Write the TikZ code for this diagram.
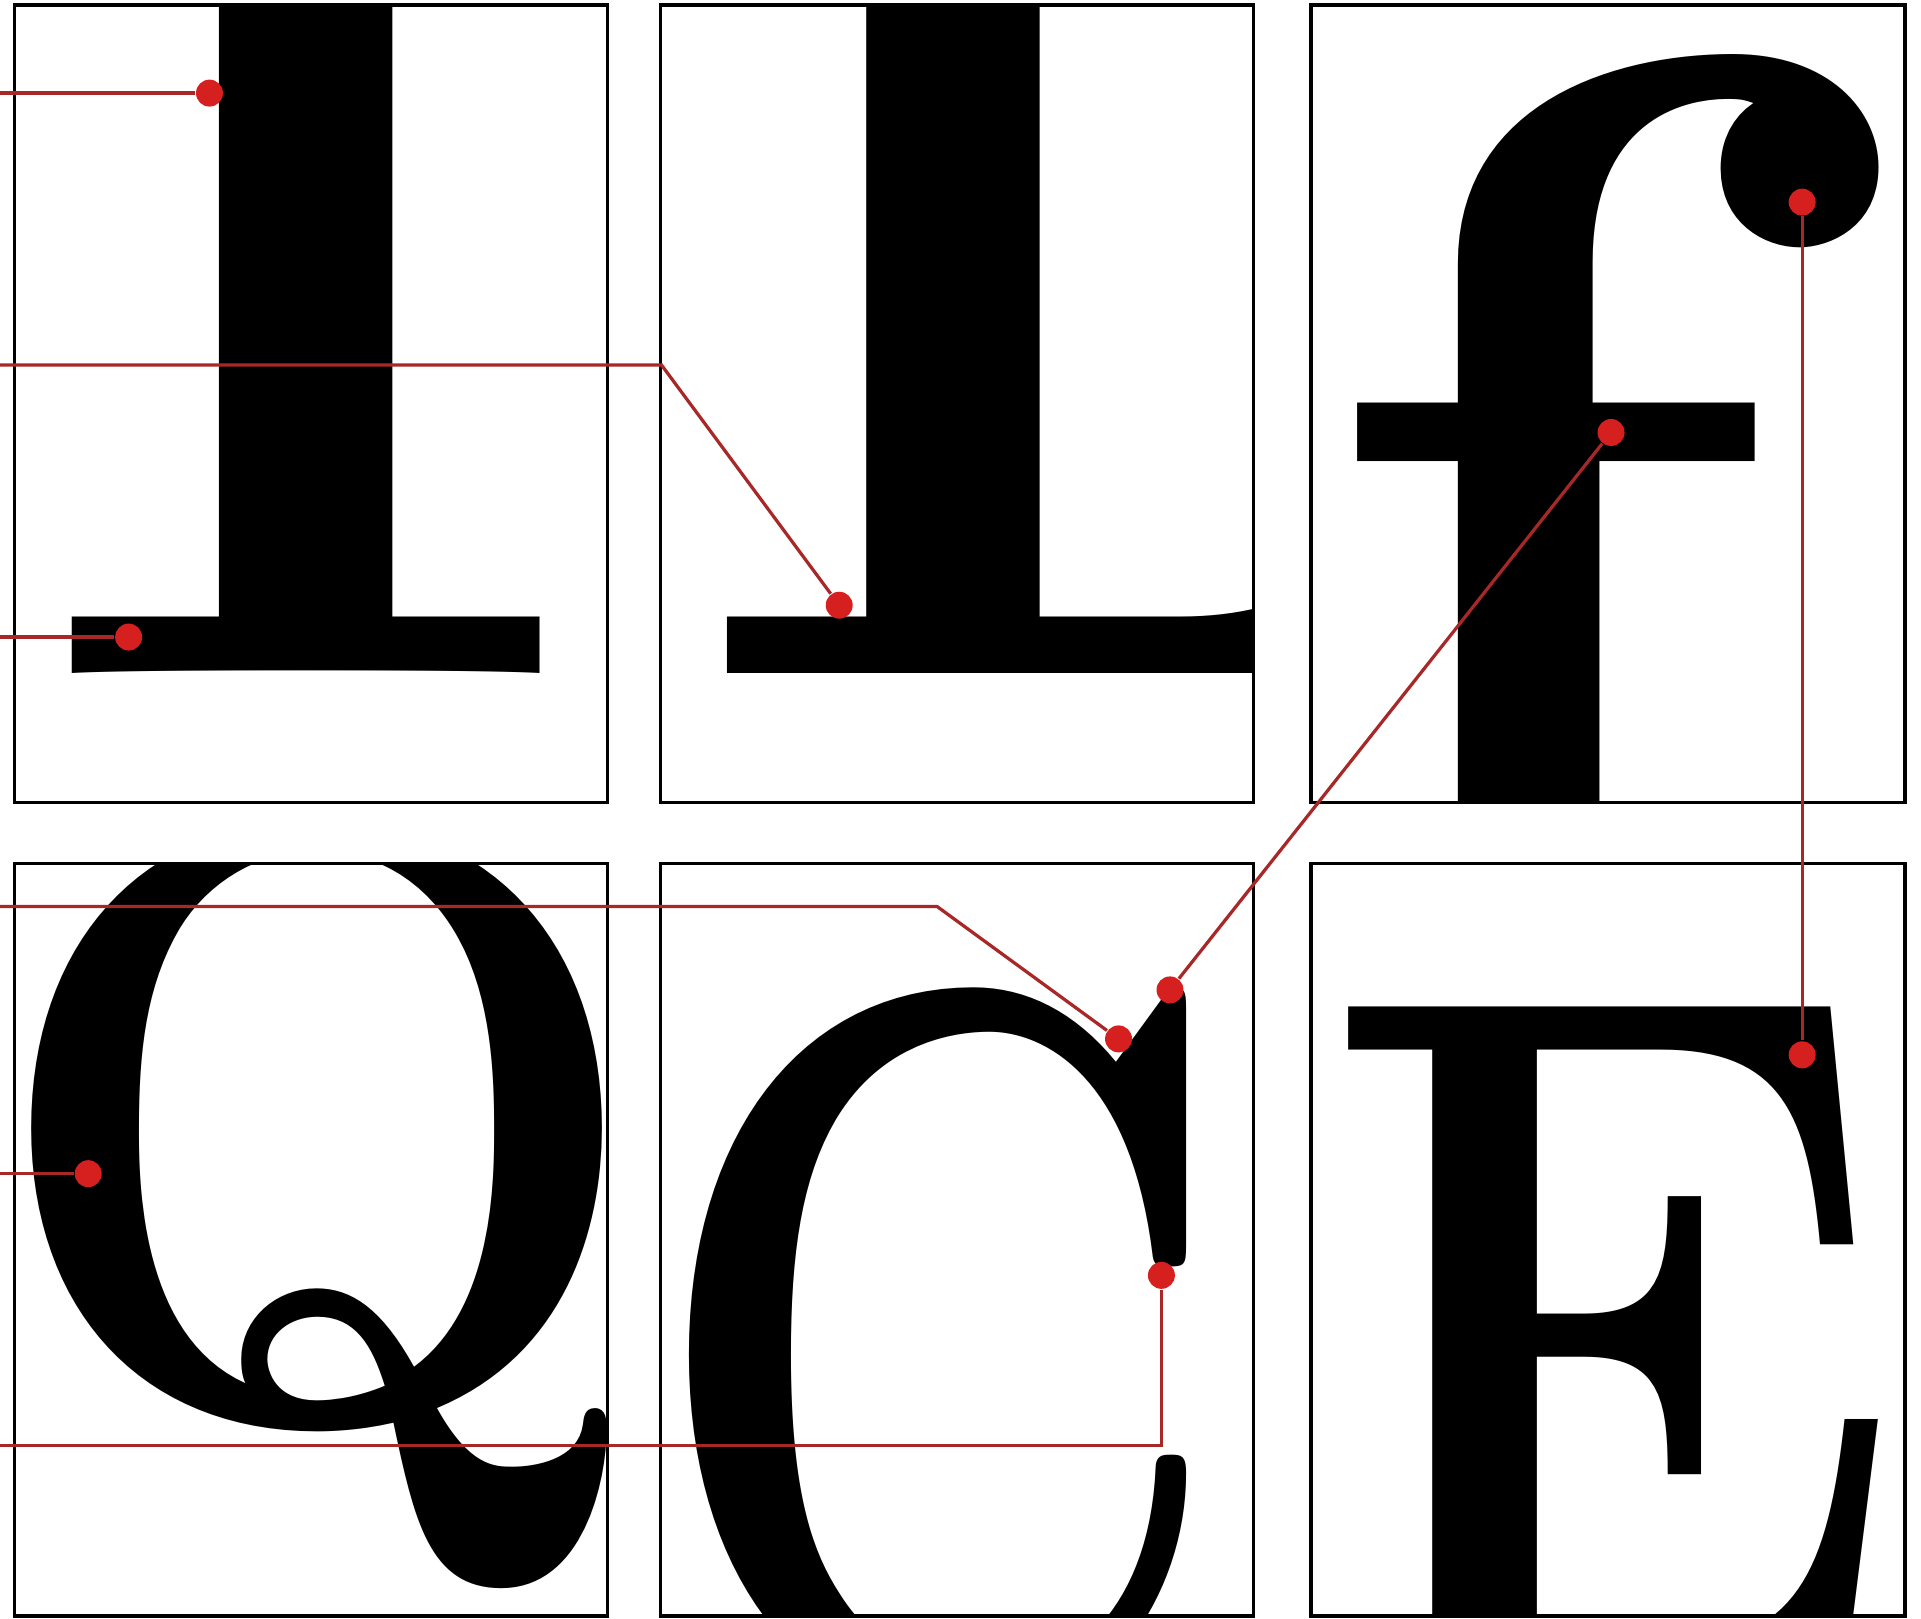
\documentclass[tikz,border=0pt]{standalone}
\usepackage{fontspec}
\usetikzlibrary{positioning,calc}
\definecolor{leadred}{RGB}{168,40,40}
\definecolor{dotred}{RGB}{214,32,32}
\tikzset{
  letterbox/.style={draw=black,line width=0.8pt},
  glyph/.style={inner sep=0pt,outer sep=0pt,anchor=base west,font=\bfseries\fontsize{#1}{#1}\selectfont},
  callout/.style={draw=leadred,line width=0.75pt},
  pin/.style={circle,fill=dotred,inner sep=0pt,minimum size=0.22cm},
}
\begin{document}
\begin{tikzpicture}[x=0.01cm,y=-0.01cm]
\useasboundingbox (0,0) rectangle (1568,1321);
% glyphs, each cut to its box
\begin{scope}
\clip (12,4) rectangle (496,655);
\node[glyph=305pt] (gI) at (26,550) {I};
\end{scope}
\begin{scope}
\clip (539,4) rectangle (1023,655);
\node[glyph=305pt] (gL) at (553,550) {L};
\end{scope}
\begin{scope}
\clip (1070,4) rectangle (1555,655);
\node[glyph=316pt] (gf) at (1065,822) {f};
\end{scope}
\begin{scope}
\clip (12,705) rectangle (496,1319);
\node[glyph=200pt,xscale=0.92] (gQ) at (-14,1160) {Q};
\end{scope}
\begin{scope}
\clip (539,705) rectangle (1023,1319);
\node[glyph=240pt,xscale=0.70] (gC) at (526,1395) {C};
\end{scope}
\begin{scope}
\clip (1070,705) rectangle (1555,1319);
\node[glyph=233pt,xscale=0.79] (gE) at (1076,1380) {E};
\end{scope}
% frames
\foreach \xa/\ya/\xb/\yb in {12/4/496/655, 539/4/1023/655, 1070/4/1555/655,
  12/705/496/1319, 539/705/1023/1319, 1070/705/1555/1319}
  \draw[letterbox] (\xa,\ya) rectangle (\xb,\yb);
% pins
\node[pin] (stem) at (171,76) {};
\node[pin] (bracket) at (685,494) {};
\node[pin] (serif) at (105,520) {};
\node[pin] (terminal) at (913,848) {};
\node[pin] (bowl) at (72,958) {};
\node[pin] (barb) at (948,1041) {};
\node[pin] (spur) at (955,808) {};
\node[pin] (crossbar) at (1315,353) {};
\node[pin] (ball) at (1471,165) {};
\node[pin] (arm) at (1471,861) {};
% leader lines
\coordinate (stemEnd) at (0,76);
\coordinate (bracketEnd) at (0,298);
\coordinate (serifEnd) at (0,520);
\coordinate (terminalEnd) at (0,740);
\coordinate (bowlEnd) at (0,958);
\coordinate (barbEnd) at (0,1180);
\draw[callout] (stemEnd) -- (stem);
\draw[callout] (bracketEnd) -- (540,298) -- (bracket);
\draw[callout] (serifEnd) -- (serif);
\draw[callout] (terminalEnd) -- (765,740) -- (terminal);
\draw[callout] (bowlEnd) -- (bowl);
\draw[callout] (barbEnd) -| (barb);
\draw[callout] (spur) -- (crossbar);
\draw[callout] (ball) -- (arm);
\end{tikzpicture}
\end{document}
